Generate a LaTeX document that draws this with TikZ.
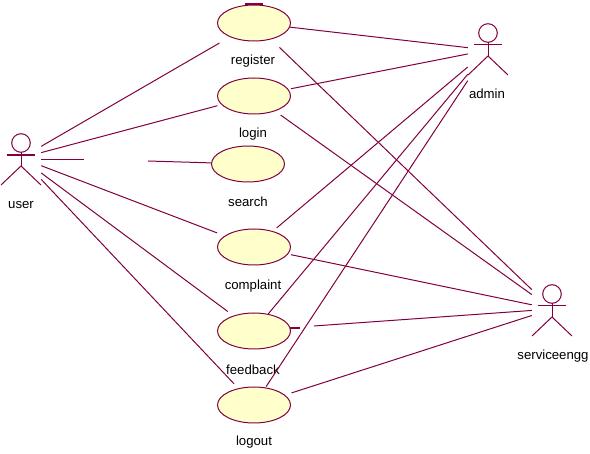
\documentclass[tikz,border=0pt]{standalone}
\usepackage{fontspec}
\setmainfont{Liberation Sans}
\usetikzlibrary{shapes.geometric}
\definecolor{umlline}{HTML}{800040}
\definecolor{umlfill}{HTML}{FFFFCB}

\begin{document}
\begin{tikzpicture}[
  x = 1pt, y = -1pt,
  every node/.style = {font=\fontsize{13.2}{15}\selectfont, inner sep=0pt},
  usecase/.style = {ellipse, draw=umlline, fill=umlfill, line width=1pt,
                    minimum width=73pt, minimum height=36pt},
  actor/.style = {rectangle, minimum width=40pt, minimum height=64pt},
  assoc/.style = {draw=umlline, line width=1pt},
  stub/.style = {draw=umlline, line width=2pt},
]
\useasboundingbox (0,0) rectangle (590,454);

\node[usecase] (register)  at (254,  23) {};
\node[usecase] (login)     at (254,  96) {};
\node[usecase] (search)    at (248, 164) {};
\node[usecase] (complaint) at (254, 247) {};
\node[usecase] (feedback)  at (254, 331) {};
\node[usecase] (logout)    at (254, 405) {};

\node (registertxt)  at (253,  61) {register};
\node (logintxt)     at (253, 134) {login};
\node (searchtxt)    at (248, 202) {search};
\node (complainttxt) at (253, 286) {complaint};
\node (feedbacktxt)  at (253, 370) {feedback};
\node (logouttxt)    at (254, 442) {logout};

\node[actor] (user)    at ( 21, 158) {};
\node[actor] (admin)   at (488,  50) {};
\node[actor] (service) at (552, 309) {};

\node (usertxt)    at ( 21, 205) {user};
\node (admintxt)   at (487,  94) {admin};
\node (servicetxt) at (553, 356) {serviceengg};

% stick figures
\foreach \a/\d/\w in {user/0/1.8, admin/-2/1, service/0/1} {
  \begin{scope}[shift={(\a.center)}, yshift=-\d pt]
    \draw[umlline, line width=1pt] (0,-15) circle (9.3pt);
    \draw[umlline, line width=\w pt] (-14,-3) -- (14,-3);
    \draw[umlline, line width=1pt] (0,-6) -- (0,8);
    \draw[umlline, line width=1pt] (-20,27) -- (0,8) -- (20,27);
  \end{scope}
}

\foreach \p/\c/\g in {user/register/12, user/login/4, user/complaint/8,
                      user/feedback/7, user/logout/6,
                      admin/register/0, admin/login/2.5, admin/complaint/5,
                      admin/feedback/0, admin/logout/1,
                      service/register/11.5, service/login/6.7, service/complaint/3,
                      service/logout/6.7}
  \draw[assoc, shorten >=\g pt] (\p) -- (\c);

\coordinate (searchgapa) at ( 84, 160);
\coordinate (searchgapb) at (148, 161);
\draw[assoc] (user.east |- searchgapa) -- (searchgapa);
\draw[assoc] (searchgapb) -- (search);

\coordinate (feedbackstub) at (300, 328);
\coordinate (feedbackgap)  at (314, 326);
\draw[stub, shorten <=-1pt] (feedback.east |- feedbackstub) -- (feedbackstub);
\draw[assoc] (feedbackgap) -- (service);

\draw[stub] ([xshift=-9pt]register.north) -- ([xshift=9pt]register.north);

\end{tikzpicture}
\end{document}
